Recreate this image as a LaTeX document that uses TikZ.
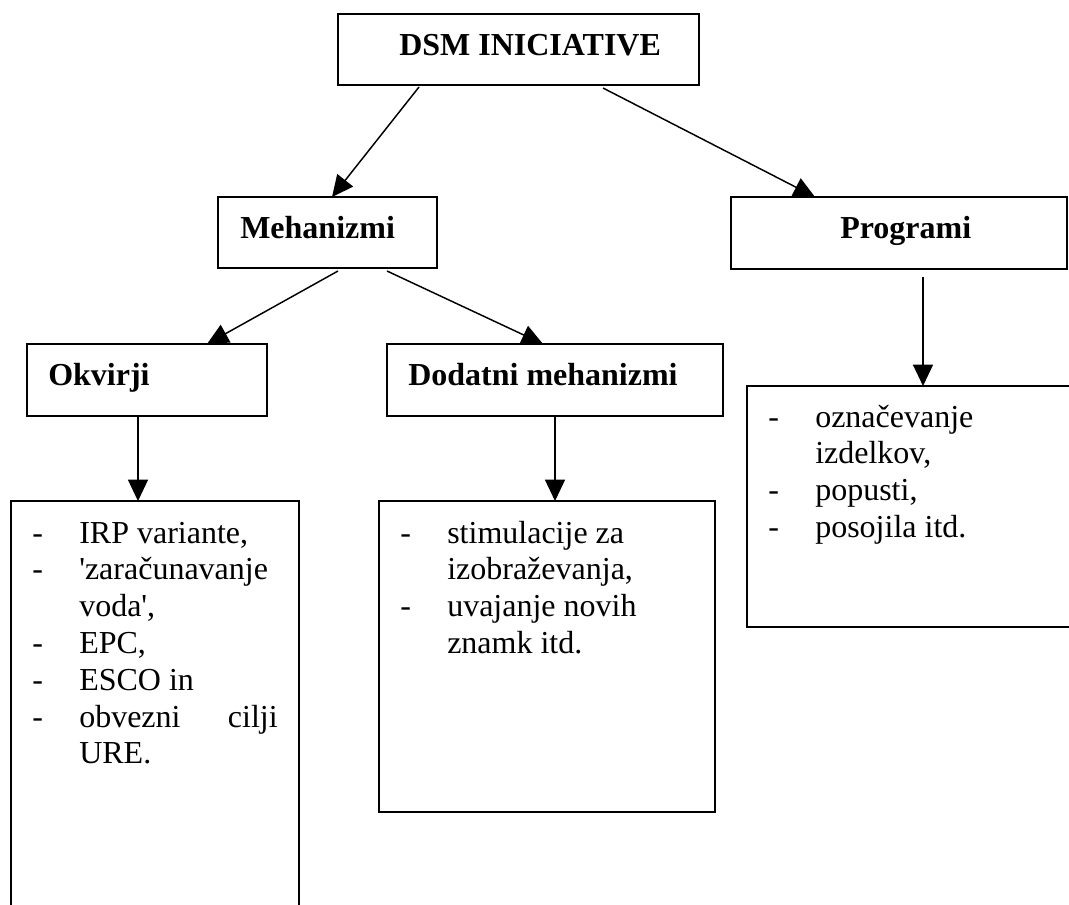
\documentclass[tikz,border=0pt]{standalone}
\usepackage{fontspec}
\setmainfont{Liberation Serif}
\usetikzlibrary{arrows.meta,calc,fit}
\begin{document}
\begin{tikzpicture}[x=0.75pt,y=-0.75pt,
  box/.style={draw, line width=1.5pt, inner sep=0pt, outer sep=0pt},
  conn/.style={line width=1.1pt, -{Triangle[length=16pt,width=15pt]}},
  head/.style={anchor=base west, inner sep=0pt, font=\fontsize{24pt}{27.6pt}\selectfont\bfseries},
  item/.style={anchor=base west, inner sep=0pt, font=\fontsize{24pt}{27.6pt}\selectfont},
  itemr/.style={item, anchor=base east},
]
\useasboundingbox (0,0) rectangle (1069,904);
\fill[white] (0,0) rectangle (1069,904);
\clip (0,0) rectangle (1069,904);

% boxes of the hierarchy
\node[box, fit={(338,14) (699,85)}]   (dsm)  {};
\node[box, fit={(218,197) (437,268)}] (meh)  {};
\node[box, fit={(731,197) (1067,269)}] (prog) {};
\node[box, fit={(27,344) (267,416)}]  (okv)  {};
\node[box, fit={(387,344) (723,416)}] (dod)  {};
% boxes holding the lists
\node[box, fit={(11,501) (299,940)}]  (lok)   {};
\node[box, fit={(379,501) (715,812)}] (ldod)  {};
\node[box, fit={(747,386) (1095,627)}] (lprog) {};

% headings
\node[head] (tdsm)  at (399,55)  {DSM INICIATIVE};
\node[head] (tmeh)  at (240,238) {Mehanizmi};
\node[head] (tprog) at (840,238) {Programi};
\node[head] (tokv)  at (48,385)  {Okvirji};
\node[head] (tdod)  at (408,385) {Dodatni mehanizmi};

% connectors
\draw[conn] ($(dsm.south west)+(81,2)$)  -- ($(meh.north west)+(114,0)$);
\draw[conn] ($(dsm.south west)+(265,3)$) -- ($(prog.north west)+(84,0)$);
\draw[conn] ($(meh.south west)+(120,3)$) -- ($(okv.north west)+(180,0)$);
\draw[conn] ($(meh.south west)+(169,3)$) -- ($(dod.north west)+(156,0)$);
\draw[conn] ($(okv.south west)+(111,0)$) -- ($(lok.north west)+(127,0)$);
\draw[conn] (dod.south) -- (dod.south |- ldod.north);
\draw[conn] ($(prog.south west)+(192,8)$) -- ($(lprog.north west)+(176,0)$);

% list under Okvirji
\node[item] (okd1) at (32,543)   {-};
\node[item] (ok1)  at (79,543)   {IRP variante,};
\node[item] (okd2) at (32,579.8) {-};
\node[item] (ok2)  at (79,579.8) {\textquotesingle zaračunavanje};
\node[item] (ok3)  at (79,616.6) {voda\textquotesingle,};
\node[item] (okd4) at (32,653.4) {-};
\node[item] (ok4)  at (79,653.4) {EPC,};
\node[item] (okd5) at (32,690.2) {-};
\node[item] (ok5)  at (79,690.2) {ESCO in};
\node[item] (okd6) at (32,727)   {-};
\node[item] (ok6)  at (79,727)   {obvezni};
\node[itemr] (ok6b) at (278,727) {cilji};
\node[item] (ok7)  at (79,763.8) {URE.};

% list under Dodatni mehanizmi
\node[item] (dd1) at (400,543)   {-};
\node[item] (d1)  at (447,543)   {stimulacije za};
\node[item] (d2)  at (447,579.8) {izobraževanja,};
\node[item] (dd3) at (400,616.6) {-};
\node[item] (d3)  at (447,616.6) {uvajanje novih};
\node[item] (d4)  at (447,653.4) {znamk itd.};

% list under Programi
\node[item] (pd1) at (768,427)   {-};
\node[item] (p1)  at (815,427)   {označevanje};
\node[item] (p2)  at (815,463.8) {izdelkov,};
\node[item] (pd3) at (768,500.6) {-};
\node[item] (p3)  at (815,500.6) {popusti,};
\node[item] (pd4) at (768,537.4) {-};
\node[item] (p4)  at (815,537.4) {posojila itd.};
\end{tikzpicture}
\end{document}
